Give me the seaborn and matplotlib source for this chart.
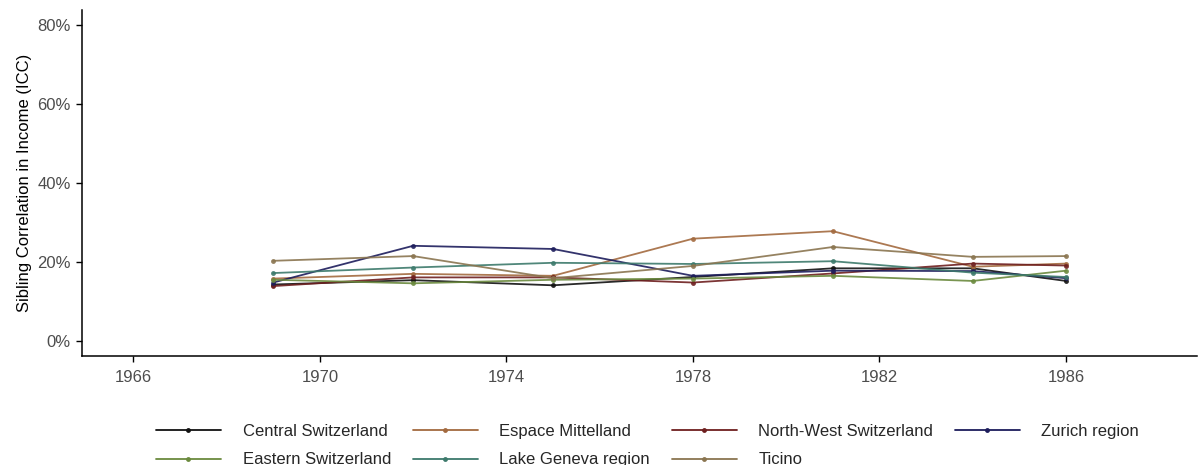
import numpy as np
import pandas as pd
import matplotlib
matplotlib.use("Agg")
import matplotlib.pyplot as plt
import seaborn as sns
from matplotlib.ticker import FuncFormatter
from matplotlib.lines import Line2D

years = [1969, 1972, 1975, 1978, 1981, 1984, 1986]
central = [14.3, 15.4, 14.1, 16.2, 18.4, 18.4, 15.2]
espace = [15.8, 17.0, 16.5, 25.9, 27.8, 18.8, 19.6]
northwest = [13.9, 16.1, 16.1, 14.8, 17.1, 19.6, 19.1]
zurich = [14.8, 24.1, 23.3, 16.5, 17.8, 17.7, 15.9]
eastern = [15.5, 14.6, 15.5, 15.8, 16.5, 15.2, 17.8]
geneva = [17.2, 18.6, 19.8, 19.5, 20.2, 17.3, 16.2]
ticino = [20.3, 21.5, 15.9, 19.0, 23.8, 21.3, 21.5]

regions = ["Central Switzerland", "Espace Mittelland", "North-West Switzerland",
           "Zurich region", "Eastern Switzerland", "Lake Geneva region", "Ticino"]
series = [central, espace, northwest, zurich, eastern, geneva, ticino]
colors = ["#111111", "#a36a3f", "#6e1f1f", "#1d1d5c", "#6b8a3e", "#3d7a6c", "#8a7550"]

df = pd.DataFrame({
    "year": np.tile(years, len(regions)),
    "icc": np.concatenate(series),
    "region": np.repeat(regions, len(years)),
})

sns.set_theme(style="white")
plt.rcParams["font.family"] = ["Liberation Sans", "DejaVu Sans"]

fig = plt.figure(figsize=(11.99, 4.65), dpi=100)
ax = fig.add_axes([0.0684, 0.2344, 0.9296, 0.7441])

sns.lineplot(data=df, x="year", y="icc", hue="region", hue_order=regions,
             palette=dict(zip(regions, colors)), marker="o", markersize=3.5,
             markeredgewidth=0, linewidth=1.3, alpha=0.9, ax=ax, legend=False)

ax.set_xlim(1964.9, 1988.8)
ax.set_ylim(-3.8, 83.8)
ax.set_xticks([1966, 1970, 1974, 1978, 1982, 1986])
ax.set_yticks([0, 20, 40, 60, 80])
ax.yaxis.set_major_formatter(FuncFormatter(lambda v, p: f"{v:.0f}%"))
ax.set_xlabel("")
ax.set_ylabel("Sibling Correlation in Income (ICC)", fontsize=12, color="black")
for s in ["top", "right"]:
    ax.spines[s].set_visible(False)
for s in ["left", "bottom"]:
    ax.spines[s].set_color("black")
    ax.spines[s].set_linewidth(1.1)
ax.tick_params(axis="both", which="major", direction="out", length=4, width=1,
               color="black", labelsize=12, labelcolor="#4d4d4d", pad=4,
               bottom=True, left=True)
ax.tick_params(axis="x", pad=6)

order = [0, 4, 1, 5, 2, 6, 3]
handles = [Line2D([], [], color=colors[i], marker="o", markersize=3.5,
                  markeredgewidth=0, linewidth=1.3) for i in order]
labels = [regions[i] for i in order]
fig.legend(handles, labels, loc="upper left", bbox_to_anchor=(0.130, 0.088),
           ncol=4, frameon=False, fontsize=12, handlelength=3.9,
           handletextpad=1.3, columnspacing=1.3, labelspacing=0.8,
           borderaxespad=0, borderpad=0)

fig.savefig("out.png", dpi=100)
